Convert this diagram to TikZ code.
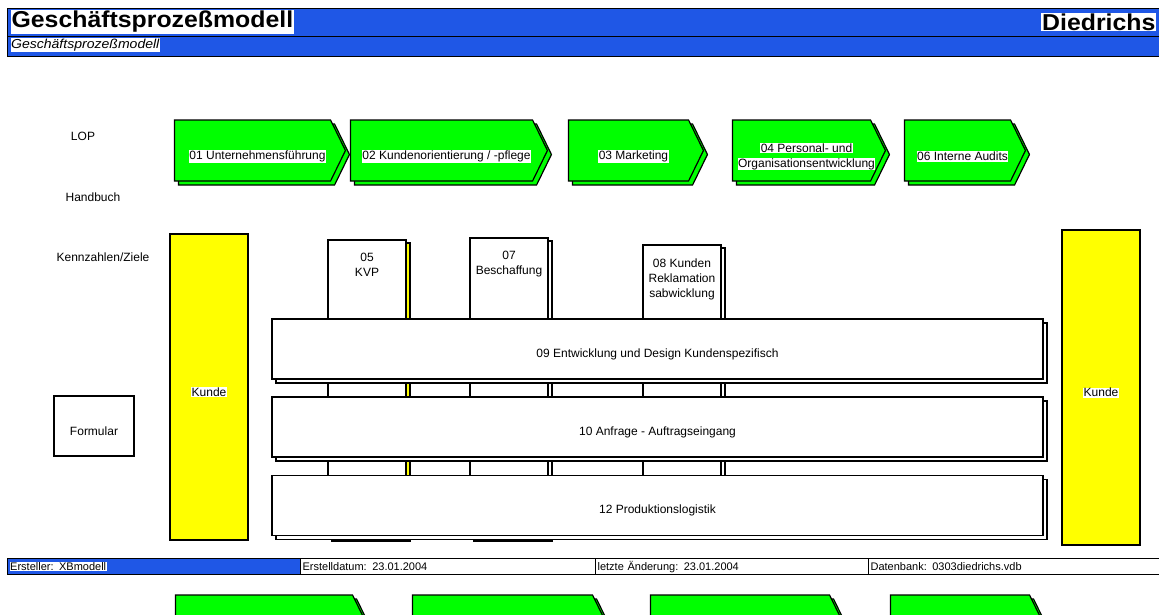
\documentclass[tikz,border=0pt]{standalone}
\usepackage{fontspec}
\setmainfont{Liberation Sans}
\usetikzlibrary{shapes.symbols,shadows}
\definecolor{kopfblau}{RGB}{31,87,230}
\definecolor{prozgruen}{RGB}{0,255,0}
\definecolor{kundgelb}{RGB}{255,255,0}
\setlength{\fboxsep}{0.6pt}
\newcommand{\hl}[1]{\colorbox{white}{#1}}

\begin{document}
\begin{tikzpicture}[x=1pt,y=-1pt,line width=1.2pt,font=\fontsize{12}{15}\selectfont,
  proz/.style={signal,signal to=east,signal from=nowhere,signal pointer angle=128,
    draw,fill=prozgruen,minimum height=61pt,inner sep=0pt,
    copy shadow={draw=black,fill=prozgruen,shadow xshift=4pt,shadow yshift=-4pt}},
  ptext/.style={label={[xshift=5pt,yshift=-6pt,align=center]center:#1}},
  mitte/.style={label={[yshift=-5pt,align=center]center:#1}},
  oben/.style={label={[anchor=north,align=center,yshift=-10pt]north:#1}},
  kunde/.style={draw,fill=kundgelb,minimum width=78pt,inner sep=0pt},
  akte/.style={draw,fill=white,minimum width=78pt,inner sep=0pt,
    copy shadow={draw=black,fill=white,shadow xshift=4pt,shadow yshift=-3pt}},
  balken/.style={draw,fill=white,minimum width=771pt,minimum height=60pt,
    copy shadow={draw=black,fill=white,shadow xshift=4pt,shadow yshift=-4pt}},
  zelle/.style={draw,minimum height=16pt,inner sep=2pt,align=left,
    font=\fontsize{11}{12}\selectfont}]
\useasboundingbox (0,0) rectangle (1159,614);
\clip (0,0) rectangle (1159,614);

% Kopf
\node[draw,fill=kopfblau,anchor=north west,minimum width=1158pt,minimum height=28pt,inner sep=0pt] (kopf) at (7,8) {};
\node[draw,fill=kopfblau,anchor=north west,minimum width=1158pt,minimum height=20pt,inner sep=0pt] (unterkopf) at (7,36) {};
\node[anchor=west,fill=white,inner sep=1pt,font=\bfseries\fontsize{23}{24}\selectfont] (titel) at (10,22) {\scalebox{1.08}[1]{Geschäftsprozeßmodell}};
\node[anchor=east,fill=white,inner sep=1pt,font=\bfseries\fontsize{23}{24}\selectfont] (firma) at (1157,22) {\scalebox{1.08}[1]{Diedrichs}};
\node[anchor=west,fill=white,inner sep=0.5pt,font=\itshape\fontsize{13}{14}\selectfont] (untertitel) at (10,45) {\scalebox{1.08}[1]{Geschäftsprozeßmodell}};

% Fuehrungsprozesse
\node[proz,minimum width=171pt,ptext=\hl{01 Unternehmensführung}] (p01) at (252.5,150.5) {};
\node[proz,minimum width=197pt,ptext=\hl{02 Kundenorientierung / -pflege}] (p02) at (441.5,150.5) {};
\node[proz,minimum width=135pt,ptext=\hl{03 Marketing}] (p03) at (628.5,150.5) {};
\node[proz,minimum width=153pt,ptext={\hl{04 Personal- und}\\\hl{Organisationsentwicklung}}] (p04) at (801.5,150.5) {};
\node[proz,minimum width=121pt,ptext=\hl{06 Interne Audits}] (p06) at (957.5,150.5) {};

\node (lop) at (83,136) {LOP};
\node (handbuch) at (93,197) {Handbuch};
\node (kennzahl) at (103,257) {Kennzahlen/Ziele};
\node[draw,minimum width=80pt,minimum height=60pt,mitte=Formular] (formular) at (94,426) {};

% Kunde
\node[kunde,minimum height=306pt,mitte=\hl{Kunde}] (kundel) at (209,387) {};
\node[kunde,minimum height=315pt,mitte=\hl{Kunde}] (kunder) at (1101,387.5) {};

% Unterstuetzende Prozesse
\node[akte,minimum height=298pt,copy shadow={draw=black,fill=kundgelb,shadow xshift=4pt,shadow yshift=-3pt},
  oben={05\\KVP}] (p05) at (367,389) {};
\node[akte,minimum height=300pt,oben={07\\Beschaffung}] (p07) at (509,388) {};
\node[akte,minimum height=285pt,oben={08 Kunden\\Reklamation\\sabwicklung}] (p08) at (682,387.5) {};

% Kernprozesse
\node[balken,mitte=09 Entwicklung und Design Kundenspezifisch] (p09) at (657.5,349) {};
\node[balken,mitte=10 Anfrage - Auftragseingang] (p10) at (657.5,427) {};
\node[balken,mitte=12 Produktionslogistik] (p12) at (657.5,505.5) {};

% Fuss
\node[zelle,fill=kopfblau,anchor=north west,minimum width=293pt,text width=289pt] (f1) at (7,558) {\hl{Ersteller: XBmodell}};
\node[zelle,fill=white,anchor=north west,minimum width=295pt,text width=291pt] (f2) at (300,558) {Erstelldatum: 23.01.2004};
\node[zelle,fill=white,anchor=north west,minimum width=273pt,text width=269pt] (f3) at (595,558) {letzte Änderung: 23.01.2004};
\node[zelle,fill=white,anchor=north west,minimum width=297pt,text width=293pt] (f4) at (868,558) {Datenbank: 0303diedrichs.vdb};

% naechste Zeile
\node[proz,minimum width=192pt] (n1) at (264,625.5) {};
\node[proz,minimum width=195pt] (n2) at (502.5,625.5) {};
\node[proz,minimum width=194pt] (n3) at (740,625.5) {};
\node[proz,minimum width=154pt] (n4) at (960,625.5) {};
\end{tikzpicture}
\end{document}
